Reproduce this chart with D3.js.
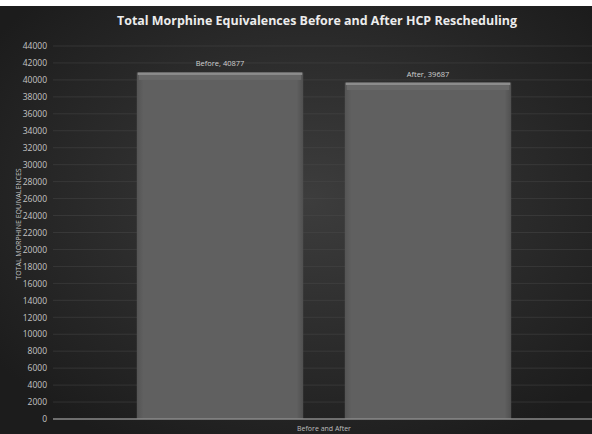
<!DOCTYPE html>
<html>
<head>
<meta charset="utf-8">
<script src="https://cdn.jsdelivr.net/npm/d3@7/dist/d3.min.js"></script>
<style>
  html, body { margin: 0; padding: 0; background: #ffffff; }
  svg { display: block; }
</style>
</head>
<body>
<svg id="chart" width="592" height="434"></svg>
<script>
// Data
const categories = ["Before", "After"];
const values = [40877, 39687];
const yTicks = d3.range(0, 44001, 2000);
const chartTitle = "Total Morphine Equivalences Before and After HCP Rescheduling";
const yTitle = "TOTAL MORPHINE EQUIVALENCES";
const xTitle = "Before and After";

const W = 592, H = 434;
const svg = d3.select("#chart");
const defs = svg.append("defs");

// Dark backdrop with a soft lighter centre
const bg = defs.append("radialGradient").attr("id", "bg")
  .attr("cx", "52%").attr("cy", "45%").attr("r", "65%");
bg.append("stop").attr("offset", "0%").attr("stop-color", "#3d3d3d");
bg.append("stop").attr("offset", "100%").attr("stop-color", "#1c1c1c");

// Bar fill: slight horizontal shading toward the sides
const barG = defs.append("linearGradient").attr("id", "barFill")
  .attr("x1", "0%").attr("x2", "100%").attr("y1", "0%").attr("y2", "0%");
barG.append("stop").attr("offset", "0%").attr("stop-color", "#545454");
barG.append("stop").attr("offset", "4%").attr("stop-color", "#606060");
barG.append("stop").attr("offset", "96%").attr("stop-color", "#606060");
barG.append("stop").attr("offset", "100%").attr("stop-color", "#505050");

svg.append("rect").attr("x", 0).attr("y", 6).attr("width", W).attr("height", H - 6)
  .attr("fill", "url(#bg)");

const plot = { left: 53, right: 592, top: 46, bottom: 419 };

const y = d3.scaleLinear().domain([0, 44000]).range([plot.bottom, plot.top]);
const x = d3.scaleBand().domain(categories).range([116, 532])
  .paddingInner(0.2).paddingOuter(0.1);

// Gridlines
svg.append("g").selectAll("line").data(yTicks.filter(d => d > 0)).join("line")
  .attr("x1", plot.left).attr("x2", plot.right)
  .attr("y1", d => y(d)).attr("y2", d => y(d))
  .attr("stroke", "#4a4a4a").attr("stroke-width", 0.8).attr("opacity", 0.6);

// Y axis tick labels
const yAxis = d3.axisLeft(y).tickValues(yTicks).tickSize(0).tickPadding(0)
  .tickFormat(d3.format("d"));
const ya = svg.append("g").attr("transform", `translate(47,0)`).call(yAxis);
ya.select(".domain").remove();
ya.selectAll("text")
  .attr("fill", "#c4c4c4")
  .style("font-family", "'Liberation Sans Narrow', 'Open Sans', sans-serif")
  .style("font-size", "8.5px");

// Bars
const bars = svg.append("g").selectAll("g").data(categories).join("g");
bars.append("rect")
  .attr("x", d => x(d))
  .attr("y", (d, i) => y(values[i]))
  .attr("width", x.bandwidth())
  .attr("height", (d, i) => y(0) - y(values[i]))
  .attr("fill", "url(#barFill)");
// Bevelled top edge
bars.append("rect")
  .attr("x", d => x(d) + 1)
  .attr("y", (d, i) => y(values[i]))
  .attr("width", x.bandwidth() - 2)
  .attr("height", 2.5)
  .attr("fill", "#8c8c8c");
bars.append("rect")
  .attr("x", d => x(d) + 2)
  .attr("y", (d, i) => y(values[i]) + 2.5)
  .attr("width", x.bandwidth() - 4)
  .attr("height", 5)
  .attr("fill", "#686868");

// Value labels
bars.append("text")
  .attr("x", d => x(d) + x.bandwidth() / 2)
  .attr("y", (d, i) => y(values[i]) - 6)
  .attr("text-anchor", "middle")
  .attr("fill", "#d0d0d0")
  .style("font-family", "'Open Sans', sans-serif")
  .style("font-size", "7.5px")
  .text((d, i) => `${d}, ${values[i]}`);

// X axis baseline
svg.append("line")
  .attr("x1", plot.left).attr("x2", plot.right)
  .attr("y1", plot.bottom).attr("y2", plot.bottom)
  .attr("stroke", "#8a8a8a").attr("stroke-width", 1.5);

// X axis label
svg.append("text")
  .attr("x", (x("Before") + x("After") + x.bandwidth()) / 2)
  .attr("y", 430.5)
  .attr("text-anchor", "middle")
  .attr("fill", "#bdbdbd")
  .style("font-family", "'Open Sans', sans-serif")
  .style("font-size", "7px")
  .text(xTitle);

// Y axis title
svg.append("text")
  .attr("transform", "translate(21,224) rotate(-90)")
  .attr("text-anchor", "middle")
  .attr("fill", "#c8c8c8")
  .style("font-family", "'Open Sans', sans-serif")
  .style("font-size", "7px")
  .text(yTitle);

// Chart title
svg.append("text")
  .attr("x", 317).attr("y", 25)
  .attr("text-anchor", "middle")
  .attr("fill", "#ececec")
  .style("font-family", "'Open Sans', sans-serif")
  .style("font-weight", "bold")
  .style("font-size", "13px")
  .attr("textLength", 400)
  .attr("lengthAdjust", "spacingAndGlyphs")
  .text(chartTitle);
</script>
</body>
</html>
